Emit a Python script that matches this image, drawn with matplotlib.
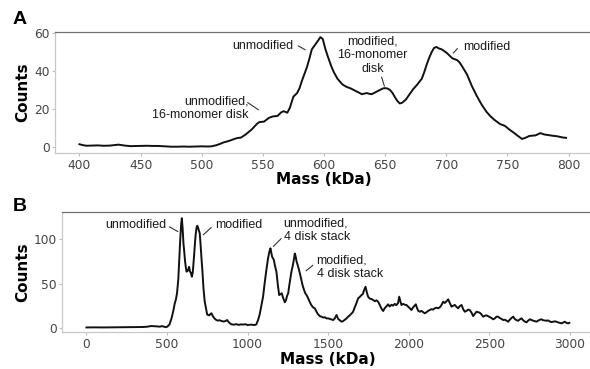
import matplotlib
matplotlib.use("Agg")
import matplotlib.pyplot as plt

# ---- Panel A: 400-800 kDa region ----
mass_a = [400, 403, 406, 410, 415, 420, 425, 432, 437, 442, 448, 455, 460, 464, 470,
          475, 480, 485, 490, 495, 500, 505, 508, 512, 515, 518, 522, 525, 529, 532,
          536, 541, 545, 547, 551, 555, 558, 562, 565, 567, 570, 572, 575, 578, 580,
          582, 584, 586, 588, 590, 593, 595, 597, 599, 601, 603, 606, 608, 611, 615,
          618, 622, 625, 628, 631, 635, 637, 639, 642, 645, 648, 650, 652, 654, 656,
          658, 660, 662, 664, 667, 670, 673, 676, 680, 682, 684, 686, 688, 690, 692,
          694, 696, 698, 701, 703, 705, 709, 711, 713, 717, 721, 725, 729, 733, 736,
          739, 744, 748, 752, 755, 758, 762, 765, 768, 773, 777, 780, 783, 787, 791,
          795, 798]
counts_a = [1.3, 0.8, 0.5, 0.6, 0.7, 0.5, 0.6, 1.1, 0.6, 0.3, 0.4, 0.5, 0.4, 0.4, 0.2,
            0.0, 0.0, 0.1, 0.0, 0.1, 0.2, 0.1, 0.2, 0.8, 1.5, 2.3, 3.0, 3.7, 4.6, 4.8,
            6.5, 9.2, 12.0, 13.0, 13.3, 15.3, 16.0, 16.3, 18.2, 18.8, 18.0, 20.5, 26.5, 28.4, 31.0,
            35.0, 38.5, 42.0, 46.5, 51.5, 54.2, 56.0, 58.0, 57.0, 52.0, 48.0, 42.5, 39.5, 36.0, 33.0,
            31.8, 30.8, 29.8, 28.8, 27.8, 28.4, 28.0, 27.8, 28.8, 29.8, 30.8, 31.0, 30.8, 30.0, 28.5,
            26.2, 24.2, 22.9, 23.3, 25.0, 27.8, 30.5, 32.7, 36.0, 39.5, 43.5, 47.0, 50.0, 52.3, 52.8,
            52.0, 51.6, 50.8, 49.3, 48.0, 46.8, 45.8, 44.5, 42.5, 38.2, 32.0, 26.8, 22.2, 18.4, 16.2,
            14.4, 12.0, 11.0, 8.9, 7.5, 6.0, 4.1, 4.8, 5.7, 6.0, 7.2, 6.5, 6.2, 5.8, 5.5,
            4.9, 4.7]
ticks_a_x = [400, 450, 500, 550, 600, 650, 700, 750, 800]
ticks_a_y = [0, 20, 40, 60]

# ---- Panel B: full 0-3000 kDa range ----
mass_b = [0, 50, 100, 150, 200, 250, 300, 350, 380, 400, 430, 455, 470, 490, 500,
          515, 528, 540, 548, 555, 562, 570, 575, 582, 588, 592, 597, 602, 606, 612,
          617, 621, 627, 632, 637, 642, 648, 654, 660, 664, 668, 673, 678, 684, 688,
          693, 698, 703, 708, 714, 720, 726, 734, 742, 749, 755, 762, 769, 776, 783,
          790, 800, 807, 815, 825, 838, 850, 860, 873, 882, 890, 900, 915, 930, 945,
          960, 972, 985, 1000, 1020, 1045, 1055, 1065, 1075, 1086, 1096, 1107, 1117, 1127, 1135,
          1142, 1148, 1153, 1158, 1163, 1170, 1179, 1188, 1196, 1204, 1212, 1220, 1226, 1231, 1238,
          1245, 1252, 1258, 1265, 1272, 1280, 1288, 1293, 1298, 1304, 1314, 1324, 1333, 1341, 1350,
          1358, 1366, 1376, 1386, 1396, 1407, 1417, 1428, 1438, 1449, 1459, 1470, 1480, 1490, 1500,
          1510, 1520, 1531, 1541, 1552, 1562, 1572, 1583, 1593, 1603, 1614, 1624, 1634, 1645, 1655,
          1665, 1676, 1686, 1697, 1707, 1715, 1722, 1732, 1740, 1748, 1758, 1768, 1779, 1790, 1800,
          1810, 1820, 1830, 1841, 1851, 1861, 1872, 1882, 1893, 1903, 1913, 1923, 1934, 1941, 1948,
          1955, 1965, 1976, 1986, 1996, 2007, 2017, 2027, 2037, 2044, 2052, 2060, 2069, 2080, 2090,
          2100, 2110, 2120, 2131, 2141, 2151, 2162, 2172, 2183, 2193, 2203, 2214, 2224, 2235, 2245,
          2255, 2266, 2276, 2287, 2297, 2307, 2317, 2328, 2338, 2348, 2358, 2369, 2379, 2390, 2400,
          2410, 2421, 2431, 2441, 2452, 2462, 2472, 2483, 2493, 2503, 2514, 2524, 2534, 2545, 2555,
          2565, 2576, 2586, 2597, 2607, 2617, 2627, 2638, 2648, 2658, 2669, 2679, 2690, 2700, 2710,
          2720, 2731, 2741, 2752, 2762, 2772, 2782, 2793, 2803, 2814, 2824, 2834, 2845, 2855, 2865,
          2876, 2886, 2896, 2907, 2917, 2927, 2938, 2948, 2958, 2969, 2979, 2990, 2997]
counts_b = [0.3, 0.4, 0.3, 0.4, 0.4, 0.6, 0.6, 0.8, 1.2, 1.9, 1.6, 1.2, 1.8, 0.7, 1.0,
            3.5, 10.6, 20.0, 27.6, 32.0, 39.0, 55.0, 74.8, 100.0, 118.0, 124.0, 112.0, 95.0, 88.0, 75.0,
            68.0, 63.5, 64.0, 66.0, 69.0, 64.0, 62.0, 57.8, 63.0, 72.0, 82.0, 95.0, 106.0, 114.0, 115.5,
            113.0, 110.0, 106.9, 95.0, 78.0, 63.4, 45.0, 29.5, 22.0, 15.0, 14.4, 14.0, 15.5, 16.3, 13.5,
            11.5, 9.5, 8.7, 8.0, 8.5, 7.6, 7.0, 7.3, 8.7, 6.5, 5.0, 3.8, 3.5, 4.0, 3.2,
            3.8, 3.5, 4.0, 3.0, 3.5, 3.0, 4.0, 8.7, 15.0, 25.7, 35.0, 52.0, 66.0, 78.6, 86.0,
            89.9, 84.0, 80.0, 78.6, 76.7, 70.0, 63.4, 48.0, 37.0, 38.0, 39.0, 34.0, 31.0, 28.8, 31.0,
            36.0, 39.0, 47.0, 55.0, 63.4, 70.0, 78.0, 84.0, 81.0, 75.0, 69.0, 62.0, 55.0, 48.3, 43.0,
            39.0, 37.0, 33.3, 29.0, 25.5, 23.0, 22.0, 18.0, 15.0, 13.0, 12.5, 11.5, 11.8, 10.5, 10.6,
            10.0, 9.5, 8.7, 10.5, 14.4, 10.0, 8.5, 6.8, 7.5, 9.0, 10.5, 12.5, 14.0, 16.0, 18.1,
            23.0, 28.0, 33.3, 35.0, 37.0, 38.0, 42.0, 46.4, 40.0, 35.1, 33.0, 32.5, 31.4, 30.0, 31.0,
            29.5, 26.0, 22.0, 18.9, 22.0, 24.0, 26.5, 24.0, 26.0, 25.0, 27.0, 25.5, 28.0, 35.1, 30.0,
            25.7, 27.0, 26.0, 25.7, 24.0, 22.0, 20.0, 23.0, 25.0, 26.5, 22.0, 19.0, 18.1, 19.0, 17.5,
            16.3, 17.5, 19.0, 20.0, 21.0, 20.5, 22.0, 22.7, 22.0, 23.1, 25.5, 29.5, 28.0, 30.0, 32.1,
            28.0, 23.8, 25.0, 25.7, 23.5, 22.0, 24.5, 25.7, 21.0, 18.1, 19.0, 20.5, 20.0, 17.0, 13.2,
            15.5, 18.1, 17.5, 17.0, 15.0, 12.5, 13.5, 14.0, 13.0, 12.0, 11.0, 9.5, 10.5, 12.5, 12.5,
            11.0, 10.0, 8.7, 9.0, 8.0, 6.8, 9.0, 11.0, 12.5, 10.0, 8.5, 7.9, 9.5, 10.6, 8.5,
            7.0, 6.1, 8.0, 9.5, 8.7, 8.0, 7.5, 6.8, 8.0, 9.0, 9.5, 8.5, 8.2, 7.9, 8.3,
            7.0, 6.4, 6.8, 7.2, 6.8, 6.0, 5.5, 4.9, 5.8, 6.8, 5.5, 4.9, 5.5]
ticks_b_x = [0, 500, 1000, 1500, 2000, 2500, 3000]
ticks_b_y = [0, 50, 100]

# Peak labels: (text, text x, text y, alignment, leader start, leader end)
labels_a = [
    ("unmodified", 575, 53.3, "right", (578.6, 53.5), (584.9, 51.2)),
    ("unmodified,\n16-monomer disk", 538.5, 20.5, "right", (537.3, 23.5), (546.7, 19.4)),
    ("modified,\n16-monomer\ndisk", 639.6, 48.3, "center", (647.0, 37.1), (649.5, 31.8)),
    ("modified", 714, 52.9, "left", (709.3, 52.1), (705.5, 49.4)),
]
labels_b = [
    ("unmodified", 497, 116.3, "right", (513, 114.4), (569, 108.7)),
    ("modified", 796, 116.3, "left", (776, 113.7), (724, 105.0)),
    ("unmodified,\n4 disk stack", 1224, 110.3, "left", (1210, 101.2), (1158, 91.7)),
    ("modified,\n4 disk stack", 1428, 68.2, "left", (1407, 71.0), (1361, 64.2)),
]

W, H = 590, 369
fig = plt.figure(figsize=(W / 100, H / 100), dpi=100)
fig.patch.set_facecolor("white")

label_font = ["Liberation Sans", "DejaVu Sans"]


def style_axes(ax, xt, yt, xlim, ylim, xlabel_y, ylabel_x):
    ax.set_xlim(*xlim)
    ax.set_ylim(*ylim)
    ax.set_xticks(xt)
    ax.set_yticks(yt)
    ax.tick_params(axis="both", length=2.3, width=0.8, color="#bdbdbd",
                   labelsize=8.8, labelcolor="#444444")
    ax.tick_params(axis="y", pad=1.5)
    ax.tick_params(axis="x", pad=2.0)
    for side in ("left", "bottom"):
        ax.spines[side].set_color("#c8c8c8")
        ax.spines[side].set_linewidth(0.9)
    ax.spines["top"].set_color("#707070")
    ax.spines["top"].set_linewidth(0.9)
    ax.spines["right"].set_visible(False)
    ax.set_xlabel("Mass (kDa)", fontsize=11, fontweight="bold", color="black")
    ax.xaxis.label.set_va("center")
    ax.xaxis.set_label_coords(0.5, xlabel_y)
    ax.set_ylabel("Counts", fontsize=11, fontweight="bold", color="black")
    ax.yaxis.label.set_va("center")
    ax.yaxis.set_label_coords(ylabel_x, 0.5)


def add_labels(ax, items):
    for text, tx, ty, ha, p0, p1 in items:
        ax.text(tx, ty, text, ha=ha, va="center", multialignment=ha,
                fontsize=9, family=label_font, color="#1a1a1a", linespacing=1.2)
        ax.plot([p0[0], p1[0]], [p0[1], p1[1]], color="#333333", lw=0.8,
                solid_capstyle="butt")


# Panel A
ax_a = fig.add_axes([55 / W, 1 - 153 / H, (593 - 55) / W, (153 - 32) / H])
ax_a.plot(mass_a, counts_a, color="#111111", lw=1.4, solid_joinstyle="round")
style_axes(ax_a, ticks_a_x, ticks_a_y, (380, 820), (-3.33, 60.72),
           -0.215, (22.5 - 55) / 538)
add_labels(ax_a, labels_a)

# Panel B
ax_b = fig.add_axes([62.3 / W, 1 - 332.3 / H, (594 - 62.3) / W, (332.3 - 212.3) / H])
ax_b.plot(mass_b, counts_b, color="#111111", lw=1.4, solid_joinstyle="round")
style_axes(ax_b, ticks_b_x, ticks_b_y, (-150, 3150), (-5.2, 130.7),
           -0.2225, (22.5 - 62.3) / 531.7)
add_labels(ax_b, labels_b)

fig.text(13 / W, 1 - 20 / H, "A", fontsize=14, fontweight="bold",
         family=label_font, ha="left", va="center")
fig.text(13 / W, 1 - 206.5 / H, "B", fontsize=14, fontweight="bold",
         family=label_font, ha="left", va="center")

fig.savefig("out.png", dpi=100, facecolor="white")
